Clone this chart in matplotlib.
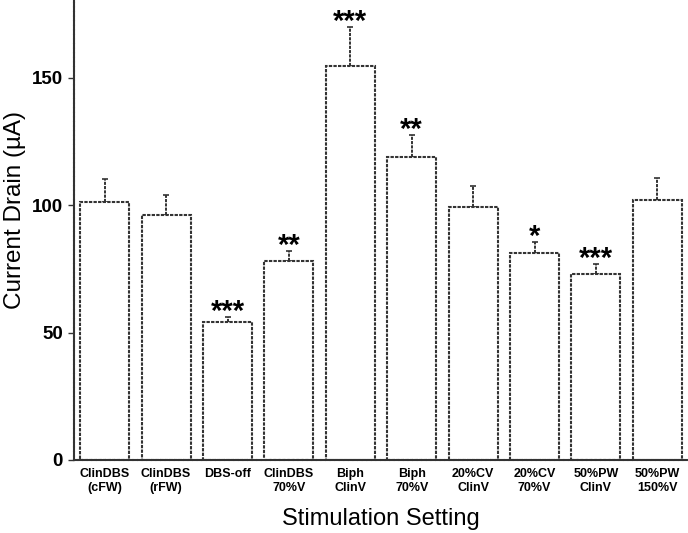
import numpy as np
import matplotlib
matplotlib.use('Agg')
import matplotlib.pyplot as plt

plt.rcParams['font.family'] = ['Liberation Sans', 'DejaVu Sans']

# Settings on the x axis
labels = ['ClinDBS\n(cFW)', 'ClinDBS\n(rFW)', 'DBS-off', 'ClinDBS\n70%V', 'Biph\nClinV',
          'Biph\n70%V', '20%CV\nClinV', '20%CV\n70%V', '50%PW\nClinV', '50%PW\n150%V']
# Mean current drain (uA) and SEM
means = [101.1, 96.0, 54.2, 78.0, 154.6, 118.9, 99.3, 81.3, 72.8, 101.8]
errs = [9.0, 7.9, 1.8, 4.0, 15.1, 8.4, 8.3, 4.3, 4.2, 8.9]
# Significance markers
stars = ['', '', '***', '**', '***', '**', '', '*', '***', '']

edge = '#333333'
dash = (0, (1.6, 0.6))

fig = plt.figure(figsize=(6.88, 5.33), dpi=100)
ax = fig.add_axes([74 / 688, 73 / 533, 614 / 688, 460 / 533])

x = np.arange(len(means))
bars = ax.bar(x, means, width=0.8, color='white', edgecolor=edge, linewidth=1.5,
              linestyle=dash, zorder=2)
# only the upper half of the error bar is drawn
eb = ax.errorbar(x, means, yerr=[np.zeros(len(errs)), errs], fmt='none', ecolor=edge,
                 elinewidth=1.4, capsize=2, capthick=1.2, zorder=1)
for line in eb[2]:
    line.set_linestyle(dash)

for xi, m, e, s in zip(x, means, errs, stars):
    if s:
        ax.annotate(s, (xi, m + e), xytext=(0, -6.5), textcoords='offset points',
                    ha='center', va='bottom', fontsize=21, fontweight='bold')

ax.set_xlim(-0.5, 9.5)
ax.set_ylim(0, 180.4)
ax.set_yticks([0, 50, 100, 150])
ax.set_xticks(x)
ax.set_xticklabels(labels, fontsize=9, fontweight='bold')
ax.tick_params(axis='x', length=0, pad=6)
ax.tick_params(axis='y', length=4, width=1, color=edge, pad=4, labelsize=13.5)
for t in ax.get_yticklabels():
    t.set_fontweight('bold')

for side in ['top', 'right']:
    ax.spines[side].set_visible(False)
for side in ['left', 'bottom']:
    ax.spines[side].set_color(edge)
    ax.spines[side].set_linewidth(1.5)
    ax.spines[side].set_linestyle(dash)

ax.set_xlabel('Stimulation Setting', fontsize=17, labelpad=10)
ax.set_ylabel('Current Drain (\u00b5A)', fontsize=17.5)
ax.yaxis.set_label_coords(-0.078, 0.543)

fig.savefig('out.png', dpi=100)
